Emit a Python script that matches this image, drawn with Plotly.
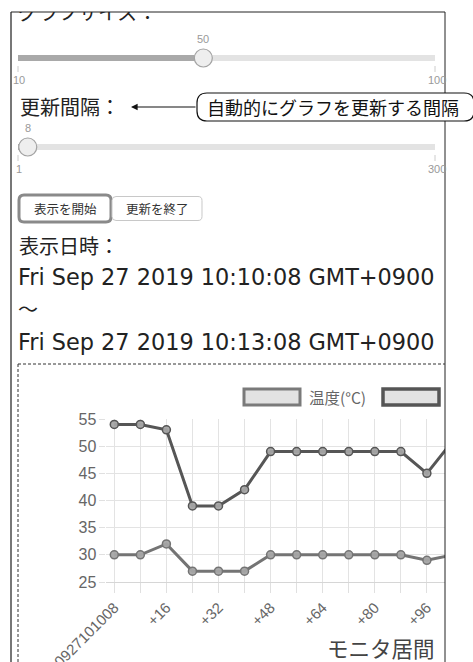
import plotly.graph_objects as go

W, H = 473, 662

# ---------------- data ----------------
time_labels = ["20190927101008", "+8", "+16", "+24", "+32", "+40", "+48",
               "+56", "+64", "+72", "+80", "+88", "+96", "+104"]
temperature = [30, 30, 32, 27, 27, 27, 30, 30, 30, 30, 30, 30, 29, 30]
humidity = [54, 54, 53, 39, 39, 42, 49, 49, 49, 49, 49, 49, 45, 51]
y_ticks = [25, 30, 35, 40, 45, 50, 55]
shown_every = 2

size_min, size_max, size_val = 10, 100, 50
intv_min, intv_max, intv_val = 1, 300, 8

JP = "Noto Sans CJK JP"
LAT = "DejaVu Sans"
ARIAL = "Liberation Sans"


def px(x):
    return x / W


def py(y):
    return 1 - y / H


shapes = []
annotations = []


def line(x0, y0, x1, y1, color, width=1, dash=None):
    d = dict(color=color, width=width)
    if dash:
        d["dash"] = dash
    shapes.append(dict(type="line", xref="paper", yref="paper",
                       x0=px(x0), y0=py(y0), x1=px(x1), y1=py(y1), line=d))


def rrect(x0, y0, x1, y1, r, fill, color, width):
    def P(x, y):
        return f"{px(x):.5f},{py(y):.5f}"
    path = (f"M {P(x0 + r, y0)} L {P(x1 - r, y0)} Q {P(x1, y0)} {P(x1, y0 + r)} "
            f"L {P(x1, y1 - r)} Q {P(x1, y1)} {P(x1 - r, y1)} "
            f"L {P(x0 + r, y1)} Q {P(x0, y1)} {P(x0, y1 - r)} "
            f"L {P(x0, y0 + r)} Q {P(x0, y0)} {P(x0 + r, y0)} Z")
    shapes.append(dict(type="path", xref="paper", yref="paper", path=path,
                       fillcolor=fill, line=dict(color=color, width=width)))


def circle(cx, cy, r, fill, color, width):
    shapes.append(dict(type="circle", xref="paper", yref="paper",
                       x0=px(cx - r), x1=px(cx + r), y0=py(cy + r), y1=py(cy - r),
                       fillcolor=fill, line=dict(color=color, width=width)))


def text(x, y, s, size, color="#222", family=JP, xanchor="left"):
    annotations.append(dict(xref="paper", yref="paper", x=px(x), y=py(y), text=s,
                            showarrow=False, xanchor=xanchor, yanchor="middle",
                            font=dict(family=family, size=size, color=color)))


def slider(y, vmin, vmax, val, x0=18, x1=435):
    hx = x0 + (val - vmin) / (vmax - vmin) * (x1 - x0)
    line(x0, y, x1, y, "#e3e3e3", 6)
    line(x0, y, hx, y, "#a9a9a9", 6)
    circle(hx, y, 9, "#eeeeee", "#a3a3a3", 1.2)
    text(hx, y - 19, str(val), 11, "#999", ARIAL, "center")
    line(x0, y + 8, x0, y + 14, "#cccccc", 1)
    line(x1, y + 8, x1, y + 14, "#cccccc", 1)
    text(x0 + 1, y + 22, str(vmin), 11, "#999", ARIAL, "center")
    text(x1 + 2, y + 22, str(vmax), 11, "#999", ARIAL, "center")


# ---------------- page frame ----------------
line(11, 12, 11, 662, "#4a4a4a", 1.5)
line(11, 12, 445, 12, "#222", 1)
line(445, 12, 445, 662, "#222", 1)

# sliders
slider(58, size_min, size_max, size_val)
text(18, 107, "更新間隔：", 20)
slider(147, intv_min, intv_max, intv_val)

# callout (on top of frame)
rrect(197, 93, 474, 121, 10, "white", "#111", 1.2)
text(205, 107, "自動的にグラフを更新する間隔", 18, "#111")
annotations.append(dict(xref="paper", yref="paper", x=px(131), y=py(107),
                        ax=66, ay=0, text="", showarrow=True, arrowhead=2,
                        arrowsize=1.1, arrowwidth=1.2, arrowcolor="#111",
                        standoff=0, startstandoff=0))

# buttons
rrect(19, 195, 111, 222, 5, "white", "#8a8a8a", 3)
text(65, 208.5, "表示を開始", 12.5, "#333", JP, "center")
rrect(112, 196.5, 202, 220.5, 4, "white", "#c8c8c8", 1)
text(157, 208.5, "更新を終了", 12.5, "#333", JP, "center")

# date texts
text(17, 245, "表示日時：", 20)
text(16, 277, "Fri Sep 27 2019 10:10:08 GMT+0900", 22.4, "#222", LAT)
text(16, 309, "〜", 20)
text(16, 342, "Fri Sep 27 2019 10:13:08 GMT+0900", 22.4, "#222", LAT)

# chart container (dashed)
line(18, 364, 445, 364, "#333", 1, "3px,2px")
line(18, 364, 18, 662, "#333", 1, "3px,2px")

# custom legend
shapes.append(dict(type="rect", xref="paper", yref="paper",
                   x0=px(244), x1=px(300), y0=py(405), y1=py(389),
                   fillcolor="#e2e2e2", line=dict(color="#7a7a7a", width=3)))
text(307, 397, "温度(°C)", 15.5, "#666")
shapes.append(dict(type="rect", xref="paper", yref="paper",
                   x0=px(383), x1=px(439), y0=py(405), y1=py(389),
                   fillcolor="#e2e2e2", line=dict(color="#555", width=3.5)))

# chart title at bottom
text(381, 647, "モニタ居間", 21.5, "#444", JP, "center")

# ---------------- figure ----------------
fig = go.Figure()

x_spacing = 26.05
x_first = 114.3
x_right = 445
x_pad = 0.3
x_dom0 = x_first - x_pad * x_spacing
x_range = [-x_pad, (x_right - x_first) / x_spacing]

fig.add_trace(go.Scatter(
    x=time_labels, y=temperature, name="温度(°C)", mode="lines+markers",
    line=dict(color="#747474", width=3),
    marker=dict(size=8, color="rgba(165,165,165,0.95)",
                line=dict(color="#747474", width=1.5)),
    hoverinfo="skip", showlegend=False))
fig.add_trace(go.Scatter(
    x=time_labels, y=humidity, name="湿度(%)", mode="lines+markers",
    line=dict(color="#565656", width=3),
    marker=dict(size=8, color="rgba(165,165,165,0.95)",
                line=dict(color="#565656", width=1.5)),
    hoverinfo="skip", showlegend=False))

# clipped heading at the top of the page (cut by the frame)
fig.add_trace(go.Scatter(
    x=[18], y=[15], mode="text", text=["グラフサイズ："],
    textposition="middle right", cliponaxis=True,
    textfont=dict(family=JP, size=20, color="#222"),
    xaxis="x2", yaxis="y2", hoverinfo="skip", showlegend=False))

tick_text = [lab if i % shown_every == 0 else "" for i, lab in enumerate(time_labels)]

fig.update_layout(
    width=W, height=H,
    margin=dict(l=0, r=0, t=0, b=0),
    paper_bgcolor="white", plot_bgcolor="rgba(0,0,0,0)",
    template="none",
    showlegend=False,
    xaxis=dict(
        type="category", domain=[px(x_dom0), px(x_right)], range=x_range,
        anchor="y", tickmode="array", tickvals=time_labels, ticktext=tick_text,
        tickangle=-45, ticks="outside", ticklen=10, tickcolor="#e0e0e0",
        showgrid=True, gridcolor="#e3e3e3", gridwidth=1,
        showline=True, linecolor="#d6d6d6", linewidth=1,
        zeroline=False, automargin=False, fixedrange=True,
        tickfont=dict(family=ARIAL, size=15, color="#666"),
    ),
    yaxis=dict(
        domain=[py(582), py(419)], range=[25, 55], anchor="x",
        tickmode="array", tickvals=y_ticks,
        ticks="outside", ticklen=6, tickcolor="#e0e0e0",
        showgrid=True, gridcolor="#e3e3e3", gridwidth=1,
        showline=False, zeroline=False, automargin=False, fixedrange=True,
        tickfont=dict(family=ARIAL, size=16, color="#666"),
    ),
    xaxis2=dict(domain=[px(11), px(445)], range=[11, 445], anchor="y2",
                visible=False, fixedrange=True),
    yaxis2=dict(domain=[0, py(12)], range=[662, 12], anchor="x2",
                visible=False, fixedrange=True),
    shapes=shapes,
    annotations=annotations,
)

fig.write_html("out.html",
               config={"displayModeBar": False},
               post_script="document.body.style.margin='0';"
                           "document.body.style.overflow='hidden';")
